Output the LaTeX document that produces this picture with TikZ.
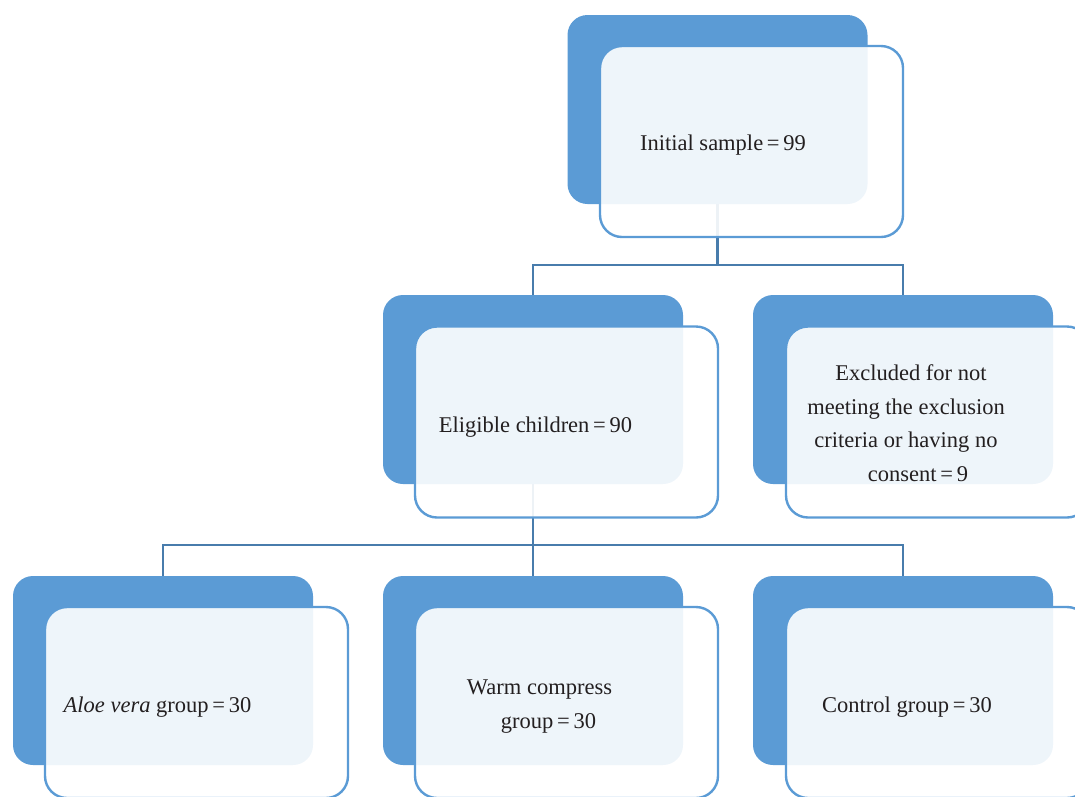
\documentclass[tikz,border=0pt]{standalone}
\usepackage{fontspec}
\setmainfont{Liberation Serif}
\usetikzlibrary{backgrounds}
\definecolor{backblue}{RGB}{91,155,213}
\definecolor{linkblue}{RGB}{72,124,172}
\definecolor{txt}{RGB}{35,31,32}
\begin{document}
\begin{tikzpicture}[x=1pt,y=-1pt,
  backbox/.style={fill=backblue,draw=none,rounded corners=20pt,minimum width=300pt,minimum height=189pt,inner sep=0pt},
  frontbox/.style={fill=white,fill opacity=0.9,draw=backblue,draw opacity=1,line width=2.4pt,rounded corners=22pt,minimum width=303pt,minimum height=191pt,inner sep=0pt},
  lbl/.style={text=txt,font=\fontsize{22.5pt}{33.6pt}\selectfont,inner sep=0pt,anchor=base},
  conn/.style={draw=linkblue,line width=2.6pt}]
\useasboundingbox (0,0) rectangle (1075,796);
\clip (0,0) rectangle (1075,796);
% back boxes
\node[backbox] (b1) at (717.5,109.5) {};
\node[backbox] (b2) at (533,389.5) {};
\node[backbox] (b3) at (903,389.5) {};
\node[backbox] (b4) at (163,670.5) {};
\node[backbox] (b5) at (533,670.5) {};
\node[backbox] (b6) at (903,670.5) {};
% front boxes
\node[frontbox] (f1) at (751.5,141.5) {};
\node[frontbox] (f2) at (566.5,422) {};
\node[frontbox] (f3) at (937.5,422) {};
\node[frontbox] (f4) at (196.5,702.5) {};
\node[frontbox] (f5) at (566.5,702.5) {};
\node[frontbox] (f6) at (937.5,702.5) {};
% labels
\node[lbl] (t1) at (723,150) {Initial sample\,=\,99};
\node[lbl] (t2) at (535.5,432) {Eligible children\,=\,90};
\node[lbl,align=center] (t3) at (906,481.5) {\hspace*{10pt}Excluded for not\\meeting the exclusion\hspace*{8pt}\\criteria or having no\hspace*{2pt}\\\hspace*{24pt}consent\,=\,9};
\node[lbl] (t4) at (157.5,712) {\textit{Aloe vera} group\,=\,30};
\node[lbl,align=center] (t5) at (544,728) {Warm compress\hspace*{9pt}\\\hspace*{9pt}group\,=\,30};
\node[lbl] (t6) at (907,712) {Control group\,=\,30};
% connectors
\coordinate (j1) at (717.5,265);
\coordinate (j2) at (533,545);
\begin{scope}[on background layer]
\draw[conn] (b1.south) -- (j1);
\draw[conn] (b2.north) |- (j1) -| (b3.north);
\draw[conn] (b2.south) -- (j2);
\draw[conn] (b4.north) |- (j2) -| (b6.north);
\draw[conn] (j2) -- (b5.north);
\end{scope}
\end{tikzpicture}
\end{document}
